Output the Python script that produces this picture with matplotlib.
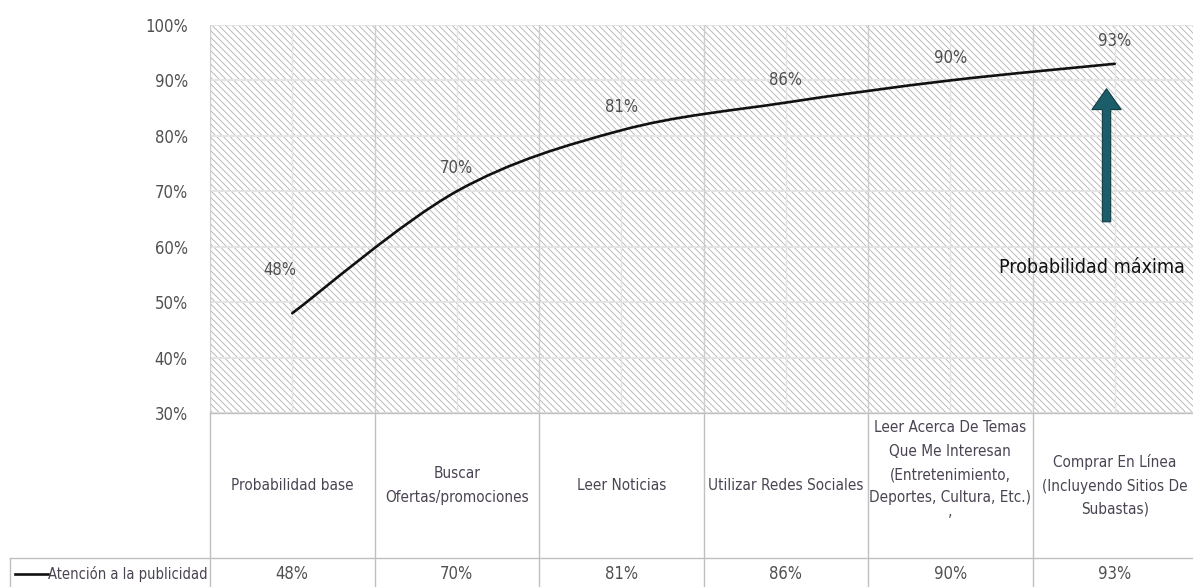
import numpy as np
import matplotlib.pyplot as plt
from matplotlib.path import Path
from matplotlib.patches import PathPatch, Rectangle

plt.rcParams['font.family'] = ['DejaVu Sans']
plt.rcParams['font.stretch'] = 'condensed'
plt.rcParams['hatch.linewidth'] = 0.6

categories = ['Probabilidad base', 'Buscar\nOfertas/promociones', 'Leer Noticias',
              'Utilizar Redes Sociales',
              'Leer Acerca De Temas\nQue Me Interesan\n(Entretenimiento,\nDeportes, Cultura, Etc.)\n\u02bc',
              'Comprar En Línea\n(Incluyendo Sitios De\nSubastas)']
values = [48, 70, 81, 86, 90, 93]
series_name = 'Atención a la publicidad'
yticks = [30, 40, 50, 60, 70, 80, 90, 100]

W, H = 1193, 587
fig = plt.figure(figsize=(W / 100, H / 100), dpi=100)

left_px, col_w = 210, 164.5
plot_top, plot_bot = 25, 413
ax = fig.add_axes([left_px / W, (H - plot_bot) / H, 6 * col_w / W, (plot_bot - plot_top) / H])
ax.set_xlim(-0.5, 5.5)
ax.set_ylim(30, 100)

txt_col = '#505050'
cat_col = '#4a4452'

# hatched plot area background
bg = Rectangle((0, 0), 1, 1, transform=ax.transAxes, facecolor='white',
               edgecolor='#b0b0b0', hatch='\\\\\\\\\\', linewidth=0, zorder=0)
ax.add_patch(bg)

for v in yticks:
    ax.axhline(v, color='#e4e4e4', lw=1.4, zorder=1)
for b in np.arange(-0.5, 6, 1):
    ax.axvline(b, color='#cdcdcd', lw=1.0, zorder=1)
for c in range(6):
    ax.axvline(c, color='#e4e4e4', lw=1.0, zorder=1)

for s in ax.spines.values():
    s.set_visible(False)
ax.set_xticks([])
ax.set_yticks(yticks)
ax.set_yticklabels([f'{v}%' for v in yticks], fontsize=12, color=txt_col)
ax.tick_params(axis='y', length=0, pad=16)

# smooth line (Bezier through points, like Excel smoothed line)
x = np.arange(len(values), dtype=float)
y = np.array(values, dtype=float)
pts = np.column_stack([x, y])
verts = [pts[0]]
codes = [Path.MOVETO]
n = len(pts)
for i in range(n - 1):
    p0 = pts[max(i - 1, 0)]
    p1 = pts[i]
    p2 = pts[i + 1]
    p3 = pts[min(i + 2, n - 1)]
    c1 = p1 + (p2 - p0) / 6
    c2 = p2 - (p3 - p1) / 6
    verts += [c1, c2, p2]
    codes += [Path.CURVE4] * 3
ax.add_patch(PathPatch(Path(verts, codes), facecolor='none', edgecolor='#111111',
                       lw=1.9, zorder=3, capstyle='round'))

# data labels
for i, v in enumerate(values):
    off = (-9, 25) if i == 0 else (0, 10)
    ax.annotate(f'{v}%', (i, v), xytext=off, textcoords='offset points',
                ha='center', va='bottom', fontsize=12, color=txt_col)

# arrow and note
ax.annotate('', xy=(4.95, 89.0), xytext=(4.95, 64.0),
            arrowprops=dict(arrowstyle='simple,head_length=0.75,head_width=1.05,tail_width=0.3',
                            mutation_scale=20, facecolor='#1b5e69', edgecolor='#0e3c44', lw=0.8),
            zorder=4)
ax.text(4.86, 56.3, 'Probabilidad máxima', ha='center', va='center',
        fontsize=14, color='#111111', zorder=4)

# data table below the plot
tax = fig.add_axes([left_px / W, 0, 6 * col_w / W, (H - plot_bot) / H])
tax.set_xlim(-0.5, 5.5)
tax.set_ylim(0, H - plot_bot)
tax.axis('off')
row_y = H - 558
x_leg = -0.5 - 200 / col_w
tcol = '#c0c0c0'
tax.plot([x_leg, 5.5], [row_y, row_y], color=tcol, lw=1.0, clip_on=False)
tax.plot([-0.5, 5.5], [H - plot_bot, H - plot_bot], color=tcol, lw=1.0, clip_on=False)
tax.plot([x_leg, x_leg], [-5, row_y], color=tcol, lw=1.0, clip_on=False)
for b in np.arange(-0.5, 6, 1):
    tax.plot([b, b], [-5, H - plot_bot], color=tcol, lw=1.0, clip_on=False)

for i, (c, v) in enumerate(zip(categories, values)):
    yc = (row_y + H - plot_bot) / 2
    if i == 4:
        yc = yc + 11
    tax.text(i, yc, c, ha='center', va='center', fontsize=11, color=cat_col,
             linespacing=1.7)
    tax.text(i, 13, f'{v}%', ha='center', va='center', fontsize=12, color=txt_col)

# legend key in table
tax.plot([x_leg + 5 / col_w, x_leg + 38 / col_w], [13, 13], color='#111111', lw=1.9,
         clip_on=False)
tax.text(x_leg + 38 / col_w, 13, series_name, ha='left', va='center', fontsize=10.5,
         color=cat_col)

fig.savefig('out.png', dpi=100)
